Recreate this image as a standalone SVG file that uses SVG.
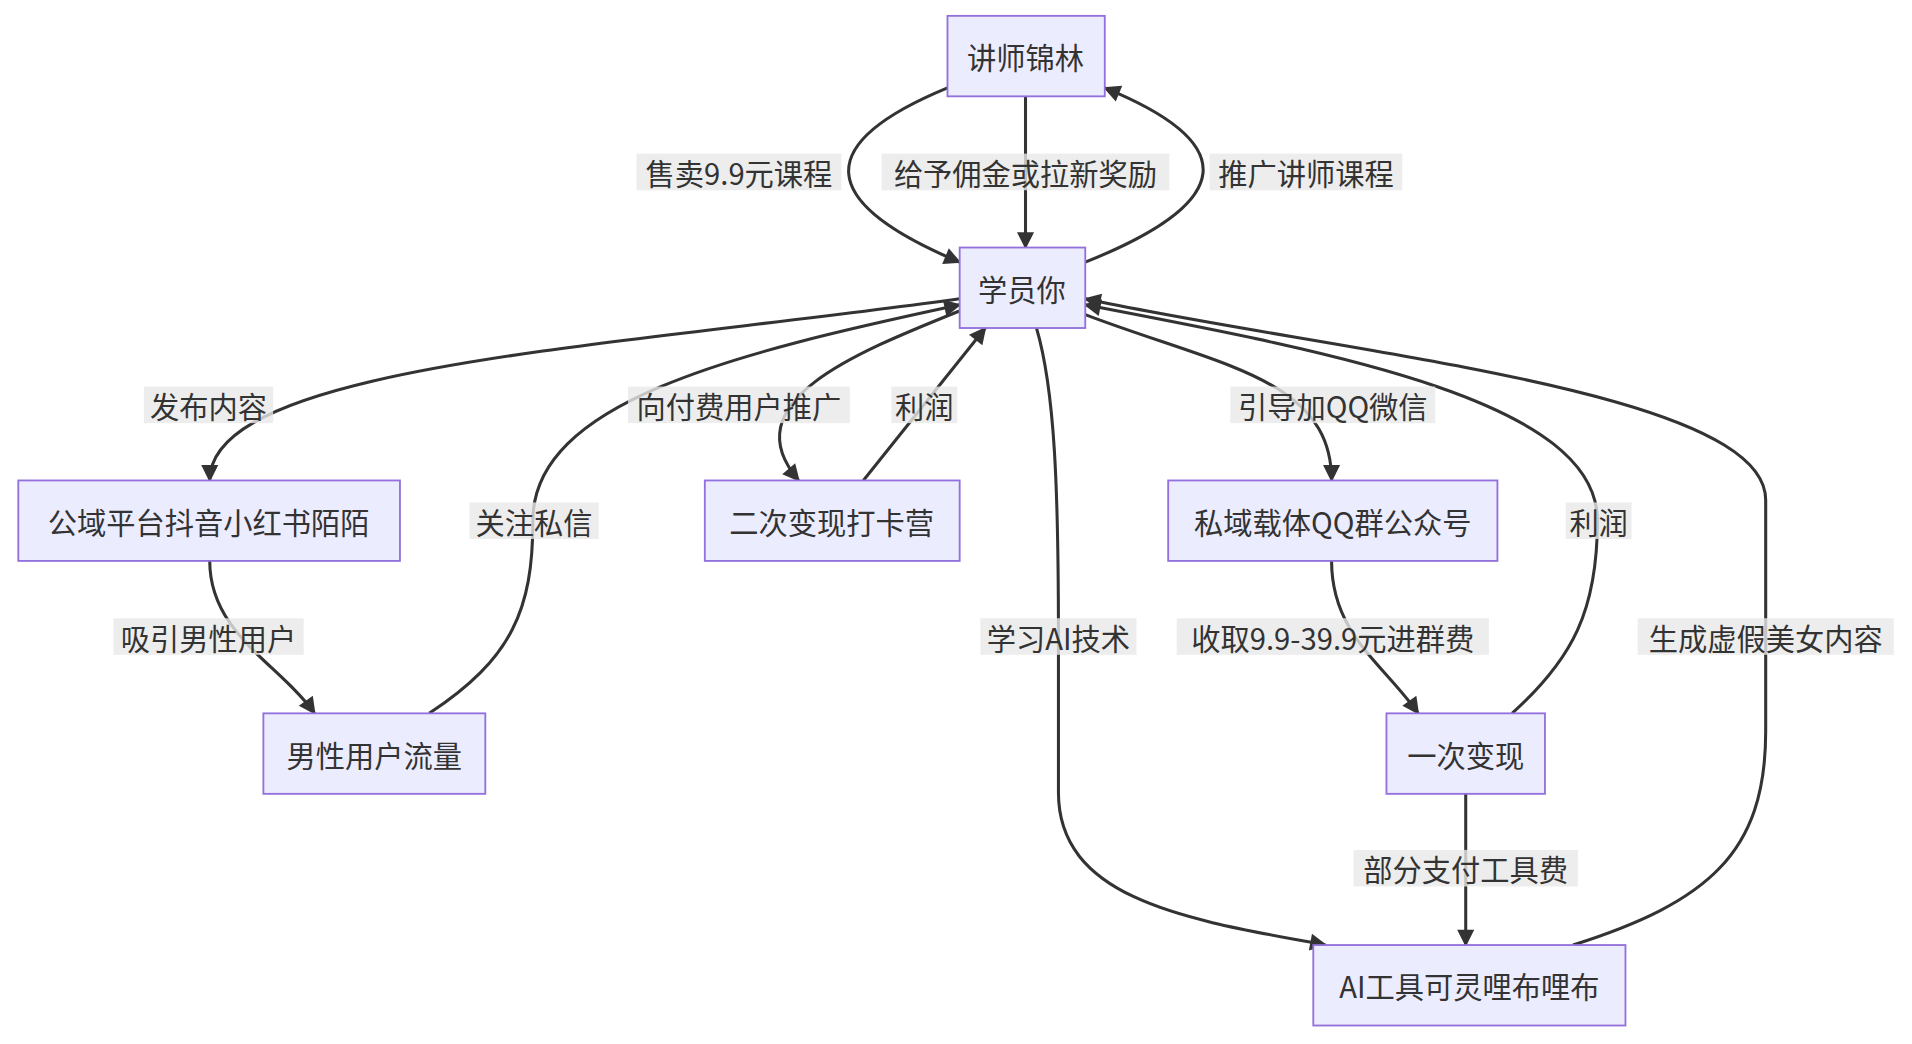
<svg xmlns="http://www.w3.org/2000/svg" width="1912" height="1044" viewBox="0 0 1912 1044">
<style>
.n rect{fill:#ECECFF;stroke:#9370DB;stroke-width:1.5}
text{font-family:"Noto Sans CJK SC","Liberation Sans",sans-serif;font-size:24px;fill:#333;text-anchor:middle;dominant-baseline:central}
.e path{fill:none;stroke:#333;stroke-width:2.5;marker-end:url(#a)}
.l rect{fill:#e8e8e8;opacity:0.8}
</style>
<defs><marker id="a" viewBox="0 0 10 10" refX="9" refY="5" markerWidth="7" markerHeight="7" orient="auto" markerUnits="userSpaceOnUse" style="overflow:visible"><path d="M0,0 L10,5 L0,10 z" fill="#333" transform="scale(2)" transform-origin="9 5"/></marker></defs>
<rect width="1912" height="1044" fill="#fff"/>
<g transform="scale(1.2194)">
<g class="e">
<path d="M777,72 Q610,141 787,215"/>
<path d="M841,79 L841,203"/>
<path d="M890,215 Q1075,141 906,72"/>
<path d="M787,245 C500,285 172,300 172,394"/>
<path d="M172,460 C172,520 230,545 258,585"/>
<path d="M352,585 C420,540 437,500 437,427 C437,330 600,290 787,250"/>
<path d="M787,255 C700,290 600,330 655,394"/>
<path d="M708,394 L808,269"/>
<path d="M890,258 C1000,300 1092,310 1092,394"/>
<path d="M1092,460 C1092,520 1135,545 1163,585"/>
<path d="M1240,585 C1290,540 1310,500 1310,427 C1310,330 1100,290 890,250"/>
<path d="M850,269 C865,320 868,400 868,522 L868,650 C868,740 980,755 1087,775"/>
<path d="M1202,651 L1202,775"/>
<path d="M1290,775 C1400,740 1448,700 1448,600 L1448,410 C1448,320 1100,290 890,245"/>
</g>
<g class="l">
<rect x="522" y="126" width="168" height="30"/><text x="606" y="141">售卖9.9元课程</text>
<rect x="723" y="126" width="236" height="30"/><text x="841" y="141">给予佣金或拉新奖励</text>
<rect x="992" y="126" width="158" height="30"/><text x="1071" y="141">推广讲师课程</text>
<rect x="118" y="317" width="106" height="30"/><text x="171" y="332">发布内容</text>
<rect x="93" y="507" width="156" height="30"/><text x="171" y="522">吸引男性用户</text>
<rect x="385" y="412" width="106" height="30"/><text x="438" y="427">关注私信</text>
<rect x="515" y="317" width="182" height="30"/><text x="606" y="332">向付费用户推广</text>
<rect x="731" y="317" width="54" height="30"/><text x="758" y="332">利润</text>
<rect x="1009" y="317" width="168" height="30"/><text x="1093" y="332">引导加QQ微信</text>
<rect x="965" y="507" width="256" height="30"/><text x="1093" y="522">收取9.9-39.9元进群费</text>
<rect x="1284" y="412" width="54" height="30"/><text x="1311" y="427">利润</text>
<rect x="804" y="507" width="128" height="30"/><text x="868" y="522">学习AI技术</text>
<rect x="1110" y="697" width="184" height="30"/><text x="1202" y="712">部分支付工具费</text>
<rect x="1343" y="507" width="210" height="30"/><text x="1448" y="522">生成虚假美女内容</text>
</g>
<g id="n1" class="n"><rect x="777" y="13" width="129" height="66"/><text x="841" y="46">讲师锦林</text></g>
<g id="n2" class="n"><rect x="787" y="203" width="103" height="66"/><text x="838" y="236">学员你</text></g>
<g id="n3" class="n"><rect x="15" y="394" width="313" height="66"/><text x="171" y="427">公域平台抖音小红书陌陌</text></g>
<g id="n4" class="n"><rect x="578" y="394" width="209" height="66"/><text x="682" y="427">二次变现打卡营</text></g>
<g id="n5" class="n"><rect x="958" y="394" width="270" height="66"/><text x="1093" y="427">私域载体QQ群公众号</text></g>
<g id="n6" class="n"><rect x="216" y="585" width="182" height="66"/><text x="307" y="618">男性用户流量</text></g>
<g id="n7" class="n"><rect x="1137" y="585" width="130" height="66"/><text x="1202" y="618">一次变现</text></g>
<g id="n8" class="n"><rect x="1077" y="775" width="256" height="66"/><text x="1205" y="808">AI工具可灵哩布哩布</text></g>
</g>
</svg>
